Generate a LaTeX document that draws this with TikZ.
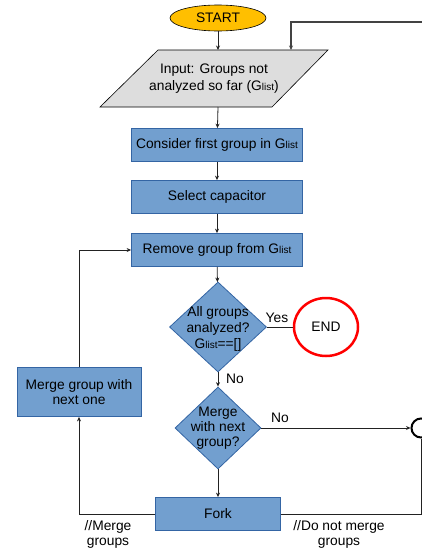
\documentclass[tikz,border=0pt]{standalone}
\usepackage{fontspec}
\setmainfont{Liberation Sans}
\usetikzlibrary{arrows.meta,shapes.geometric}
\definecolor{boxfill}{HTML}{729FCF}
\definecolor{boxline}{HTML}{3465A4}
\definecolor{startfill}{HTML}{FFBF00}
\definecolor{inpfill}{HTML}{DDDDDD}
\definecolor{linec}{HTML}{222222}
\newcommand{\Gl}{G{\fontsize{10}{10}\selectfont list}}
\begin{document}
\begin{tikzpicture}[x=1pt,y=-1pt, font=\fontsize{13.8}{16}\selectfont,
  procbox/.style={draw=boxline, fill=boxfill, line width=0.8pt, inner sep=0, align=center},
  decbox/.style={diamond, draw=boxline, fill=boxfill, line width=0.8pt, inner sep=0},
  conn/.style={draw=linec, line width=0.8pt, -{Stealth[length=4.5pt,width=4pt]}},
  plain/.style={draw=linec, line width=0.8pt},
  lbl/.style={inner sep=0, align=center}]
\useasboundingbox (0,0) rectangle (422,552);
\clip (0,0) rectangle (422,552);
% shapes
\node[ellipse, draw=black, fill=startfill, line width=0.6pt, minimum width=96, minimum height=26, inner sep=0] (start) at (218,18) {START};
\draw[fill=inpfill, draw=black, line width=0.6pt] (100,107) -- (158,50) -- (328,50) -- (272,107) -- cycle;
\node[lbl, font=\fontsize{13.8}{17}\selectfont] (inp) at (214,79) {Input: Groups not\\analyzed so far (\Gl)};
\coordinate (inpT) at (218,50);
\coordinate (inpR) at (291,50);
\coordinate (inpB) at (218,107);
\node[procbox, minimum width=171, minimum height=33] (consider) at (217,145) {Consider first group in \Gl};
\node[procbox, minimum width=171, minimum height=33] (select) at (217,197) {Select capacitor};
\node[procbox, minimum width=171, minimum height=33] (remove) at (217,250) {Remove group from \Gl};
\node[decbox, minimum width=97, minimum height=90] (d1) at (218,327) {};
\node[lbl] (d1t) at (218,329) {All groups\\analyzed?\\\Gl==[]};
\node[ellipse, draw=red, fill=white, line width=2.5pt, minimum width=64, minimum height=58, inner sep=0] (end) at (326,327) {END};
\node[decbox, minimum width=86, minimum height=82] (d2) at (218,428) {};
\node[lbl, font=\fontsize{13.8}{15}\selectfont] (d2t) at (218,428) {Merge\\with next\\group?};
\node[procbox, minimum width=125, minimum height=33] (fork) at (218,514) {Fork};
\node[procbox, minimum width=124, minimum height=49, font=\fontsize{13.8}{14.5}\selectfont] (merge) at (79,392) {Merge group with\\next one};
\node[circle, draw=black, fill=white, line width=2pt, minimum size=19, inner sep=0] (jc) at (421,428) {};
\coordinate (far) at (440,22);
% connectors
\draw[conn] (start) -- (inpT);
\draw[conn] (inpB) -- (consider);
\draw[conn] (consider) -- (select);
\draw[conn] (select) -- (remove);
\draw[conn] (remove) -- (d1);
\draw[plain] (d1) -- (end);
\node[lbl] (yes) at (277,318) {Yes};
\draw[conn] (d1) -- (d2);
\node[lbl] (no1) at (235,379) {No};
\draw[conn] (d2) -- (jc);
\node[lbl] (no2) at (280,418) {No};
\draw[conn] (d2) -- (fork);
\draw[conn] (fork.west) -| (merge.south);
\draw[conn] (merge.north) |- (remove.west);
\draw[plain] (fork.east) -| (jc.south);
\draw[conn, line width=1.2pt, draw=linec!85] (jc.east) -| (far) -| (inpR);
\node[lbl, font=\fontsize{13.8}{15}\selectfont] (ml) at (108,534) {//Merge\\groups};
\node[lbl, font=\fontsize{13.8}{15}\selectfont] (dl) at (339,534) {//Do not merge\\groups};
\end{tikzpicture}
\end{document}
